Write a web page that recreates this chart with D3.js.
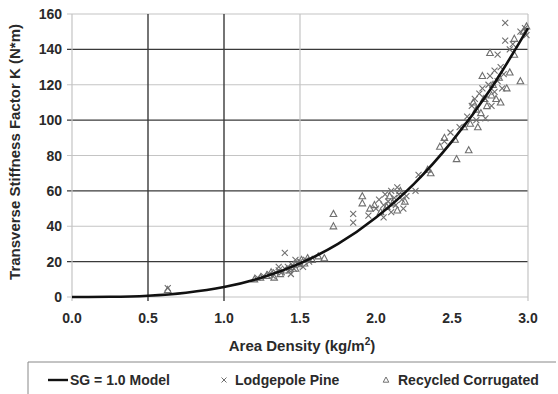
<!DOCTYPE html>
<html>
<head>
<meta charset="utf-8">
<script src="https://cdn.jsdelivr.net/npm/d3@7"></script>
<style>
  body { margin: 0; background: #fff; }
  text { font-family: "Liberation Sans", Arial, sans-serif; font-weight: bold; fill: #2a2a2a; }
</style>
</head>
<body>
<svg width="558" height="394"></svg>
<script>
// model curve
var modelDensity = [0, 0.25, 0.5, 0.75, 1.0, 1.25, 1.5, 1.75, 2.0, 2.25, 2.5, 2.75, 3.0];
var modelK = [0, 0.1, 0.7, 2.4, 5.6, 11, 19, 30, 45, 64, 88, 117, 152];

// Lodgepole Pine [density, K]
var pine = [
  [0.63,5],
  [1.22,11],[1.26,12],[1.30,13],[1.32,12],[1.34,14],[1.36,15],[1.38,14],[1.40,16],[1.40,25],[1.42,17],
  [1.43,15],[1.45,18],[1.46,16],[1.48,19],[1.50,18],[1.50,20],[1.52,17],[1.54,21],[1.56,20],[1.36,17],
  [1.44,13],[1.47,21],
  [1.85,47],[1.85,42],[1.95,46],[2.00,50],[2.02,55],[2.05,52],[2.06,58],[2.08,54],[2.10,60],[2.10,48],
  [2.12,56],[2.13,52],[2.14,62],[2.15,58],[2.17,55],[2.18,50],[2.20,57],[2.26,60],[2.28,69],[2.05,45],
  [2.45,88],[2.49,93],[2.55,96],[2.60,102],[2.63,108],[2.65,112],[2.66,100],[2.68,115],[2.70,118],
  [2.72,101],[2.72,112],[2.74,120],[2.75,125],[2.76,108],[2.78,128],[2.78,116],[2.80,137],[2.80,122],
  [2.82,130],[2.83,118],[2.84,126],[2.85,145],[2.85,155],[2.88,140],[2.90,143],[2.95,150],[2.98,152],[2.99,148]
];

// Recycled Corrugated [density, K]
var corrugated = [
  [0.63,4],
  [1.20,10],[1.24,11],[1.28,12],[1.31,14],[1.33,11],[1.37,13],[1.41,15],[1.44,17],[1.47,16],[1.49,19],
  [1.51,21],[1.53,19],[1.55,22],[1.58,21],[1.62,23],[1.66,22],
  [1.72,47],[1.72,40],[1.91,57],[1.91,53],[1.96,50],[1.99,52],[2.03,48],[2.07,51],[2.09,57],[2.11,53],
  [2.14,49],[2.16,60],[2.19,54],[2.36,70],[2.34,72],
  [2.42,85],[2.45,90],[2.52,89],[2.53,78],[2.61,83],[2.58,96],[2.62,98],[2.67,96],[2.64,110],[2.66,106],
  [2.69,104],[2.70,125],[2.71,112],[2.73,108],[2.75,138],[2.76,114],[2.77,120],[2.79,112],[2.81,124],
  [2.82,110],[2.86,118],[2.88,127],[2.91,137],[2.91,146],[2.95,122],[2.99,153],[2.97,150]
];

var xTicks = [0, 0.5, 1.0, 1.5, 2.0, 2.5, 3.0];
var yTicks = [0, 20, 40, 60, 80, 100, 120, 140, 160];

var svg = d3.select("svg");
var x = d3.scaleLinear().domain([0, 3]).range([72, 528]);
var y = d3.scaleLinear().domain([0, 160]).range([297, 14]);

// grid: the scan shows alternating dark and light lines
var darkY = [20, 60, 100, 140];
svg.append("g").selectAll("line")
    .data(yTicks)
    .enter().append("line")
    .attr("x1", x(0) - 5).attr("x2", x(3))
    .attr("y1", function (d) { return y(d); })
    .attr("y2", function (d) { return y(d); })
    .attr("stroke", function (d) { return darkY.indexOf(d) >= 0 ? "#3a3a3a" : "#c4c4c4"; })
    .attr("stroke-width", function (d) { return darkY.indexOf(d) >= 0 ? 1.4 : 1.2; });

var vLines = [[0, "#c4c4c4"], [0.5, "#3a3a3a"], [1.0, "#3a3a3a"], [1.5, "#c4c4c4"], [3.0, "#c4c4c4"]];
svg.append("g").selectAll("line")
    .data(vLines)
    .enter().append("line")
    .attr("x1", function (d) { return x(d[0]); })
    .attr("x2", function (d) { return x(d[0]); })
    .attr("y1", y(160)).attr("y2", y(0) + 4)
    .attr("stroke", function (d) { return d[1]; })
    .attr("stroke-width", function (d) { return d[1] === "#3a3a3a" ? 1.4 : 1.2; });

// tick labels
svg.append("g").selectAll("text")
    .data(yTicks)
    .enter().append("text")
    .attr("x", 62)
    .attr("y", function (d) { return y(d) + 5; })
    .attr("text-anchor", "end")
    .style("font-size", "14px")
    .text(function (d) { return d; });

svg.append("g").selectAll("text")
    .data(xTicks)
    .enter().append("text")
    .attr("x", function (d) { return x(d); })
    .attr("y", 323)
    .attr("text-anchor", "middle")
    .style("font-size", "14px")
    .text(function (d) { return d.toFixed(1); });

// axis titles
var xt = svg.append("text")
    .attr("x", 302).attr("y", 351)
    .attr("text-anchor", "middle")
    .style("font-size", "15px")
    .text("Area Density (kg/m");
xt.append("tspan").attr("dy", -6).style("font-size", "10px").text("2");
xt.append("tspan").attr("dy", 6).text(")");

svg.append("text")
    .attr("transform", "translate(20,152) rotate(-90)")
    .attr("text-anchor", "middle")
    .style("font-size", "15px")
    .text("Transverse Stiffness Factor K (N*m)");

// markers
var markColor = "#6f6f6f";
var crossPath = "M-3,-3L3,3M-3,3L3,-3";
var triPath = "M0,-3.5L3.3,2.6L-3.3,2.6Z";

svg.append("g").selectAll("path")
    .data(pine)
    .enter().append("path")
    .attr("transform", function (d) { return "translate(" + x(d[0]) + "," + y(d[1]) + ")"; })
    .attr("d", crossPath)
    .attr("fill", "none")
    .attr("stroke", markColor)
    .attr("stroke-width", 1.1);

svg.append("g").selectAll("path")
    .data(corrugated)
    .enter().append("path")
    .attr("transform", function (d) { return "translate(" + x(d[0]) + "," + y(d[1]) + ")"; })
    .attr("d", triPath)
    .attr("fill", "none")
    .attr("stroke", markColor)
    .attr("stroke-width", 1.1);

// model curve
var line = d3.line()
    .x(function (d, i) { return x(modelDensity[i]); })
    .y(function (d) { return y(d); })
    .curve(d3.curveMonotoneX);

svg.append("path")
    .datum(modelK)
    .attr("d", line)
    .attr("fill", "none")
    .attr("stroke", "#111")
    .attr("stroke-width", 2.6);

// legend
svg.append("path")
    .attr("d", "M28,394V362H556")
    .attr("fill", "none")
    .attr("stroke", "#888")
    .attr("stroke-width", 1);

var ly = 380;
svg.append("line")
    .attr("x1", 48).attr("x2", 68)
    .attr("y1", ly).attr("y2", ly)
    .attr("stroke", "#111").attr("stroke-width", 2.4);
svg.append("text").attr("x", 70).attr("y", ly + 5)
    .style("font-size", "14px").text("SG = 1.0 Model");

svg.append("path")
    .attr("transform", "translate(224," + ly + ")")
    .attr("d", "M-2.5,-2.5L2.5,2.5M-2.5,2.5L2.5,-2.5")
    .attr("fill", "none").attr("stroke", markColor).attr("stroke-width", 1);
svg.append("text").attr("x", 235).attr("y", ly + 5)
    .style("font-size", "14px").text("Lodgepole Pine");

svg.append("path")
    .attr("transform", "translate(386," + ly + ")")
    .attr("d", "M0,-3L2.8,2.2L-2.8,2.2Z")
    .attr("fill", "none").attr("stroke", markColor).attr("stroke-width", 1);
svg.append("text").attr("x", 398).attr("y", ly + 5)
    .style("font-size", "14px").text("Recycled Corrugated");
</script>
</body>
</html>
